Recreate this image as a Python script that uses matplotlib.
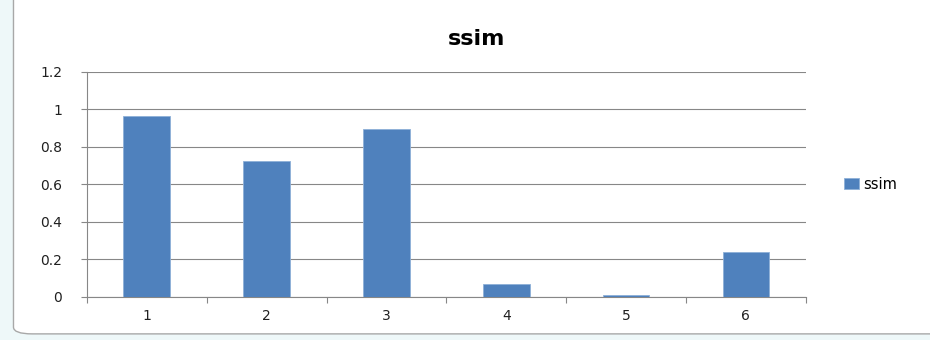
import numpy as np
import matplotlib.pyplot as plt
from matplotlib.patches import FancyBboxPatch

# data
categories = ['1', '2', '3', '4', '5', '6']
ssim = [0.965, 0.725, 0.895, 0.07, 0.01, 0.24]
yticks = [0, 0.2, 0.4, 0.6, 0.8, 1, 1.2]
ytick_labels = ['0', '0.2', '0.4', '0.6', '0.8', '1', '1.2']

plt.rcParams['font.family'] = ['DejaVu Sans']

fig = plt.figure(figsize=(9.3, 3.4), dpi=100, facecolor='#eef8f9')

# chart frame (runs off the top and right edge)
frame = FancyBboxPatch((0.0145, 0.018), 1.1, 1.1, boxstyle='round,pad=0,rounding_size=0.02',
                       transform=fig.transFigure, facecolor='white', edgecolor='#a8a8a8',
                       linewidth=1.0, zorder=-1)
fig.patches.append(frame)

ax = fig.add_axes([0.0935, 0.1265, 0.773, 0.662])
x = np.arange(len(categories))
ax.bar(x, ssim, width=0.39, color='#4F81BD', edgecolor='#8eb0d8', linewidth=0.6, label='ssim', zorder=3)

ax.set_xlim(-0.5, len(categories) - 0.5)
ax.set_ylim(0, 1.2)
ax.set_yticks(yticks)
ax.set_yticklabels(ytick_labels, fontsize=10, color='#202020')
ax.set_xticks(x)
ax.set_xticklabels(categories, fontsize=10, color='#202020')
ax.tick_params(axis='x', length=0, pad=9)
ax.tick_params(axis='y', length=4, width=0.8, color='#878787', pad=14)

# category boundary ticks on the x axis
ax.set_xticks(np.arange(len(categories) + 1) - 0.5, minor=True)
ax.tick_params(axis='x', which='minor', length=4, width=0.8, color='#878787')

ax.grid(axis='y', color='#878787', linewidth=0.8, zorder=0)
for s in ['top', 'right']:
    ax.spines[s].set_visible(False)
ax.spines['left'].set_color('#878787')
ax.spines['bottom'].set_color('#878787')

fig.text(0.512, 0.885, 'ssim', ha='center', va='center', fontsize=16, fontweight='bold')

ax.legend(loc='center left', bbox_to_anchor=(1.035, 0.5), frameon=False, fontsize=10.5,
          handlelength=1.0, handleheight=0.8, handletextpad=0.3)

fig.savefig('out.png', dpi=100, facecolor=fig.get_facecolor())
